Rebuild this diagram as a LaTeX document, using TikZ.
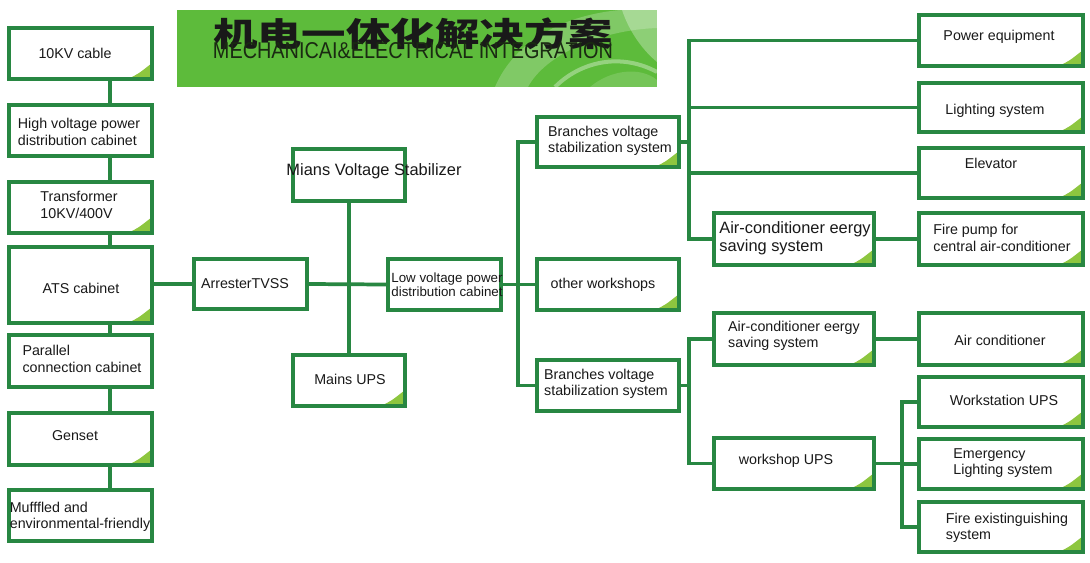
\documentclass[tikz,border=0pt]{standalone}
\usepackage{fontspec}
\setmainfont{Liberation Sans}
\newfontfamily\cjk{Noto Sans CJK SC}
\usetikzlibrary{calc}
\definecolor{gborder}{RGB}{40,135,66}
\definecolor{trigreen}{RGB}{141,198,63}
\definecolor{banner}{RGB}{93,187,59}
\definecolor{subtext}{RGB}{26,42,18}
\definecolor{txtcol}{RGB}{25,25,25}
\tikzset{
  gbox/.style={rectangle,draw=gborder,fill=white,line width=2.8pt,inner sep=0pt},
  tri/.style={path picture={\fill[trigreen] ([xshift=-18pt]path picture bounding box.south east) .. controls ([xshift=-10pt,yshift=4pt]path picture bounding box.south east) .. ([yshift=12pt]path picture bounding box.south east) -- (path picture bounding box.south east) -- cycle;}},
  wire/.style={draw=gborder,line width=2.8pt},
  btxt/.style={inner sep=0pt,align=left,text=txtcol,font=\fontsize{10.7}{12.3}\selectfont},
  bigtxt/.style={inner sep=0pt,align=left,text=txtcol,font=\fontsize{12.3}{13.5}\selectfont},
  smalltxt/.style={inner sep=0pt,align=left,text=txtcol,font=\fontsize{10}{10.8}\selectfont}
}
\newcommand\gb[6][]{\node[gbox,#1,minimum width={(#5-#3)*0.75pt},minimum height={(#6-#4)*0.75pt}] (#2) at ({(#3+#5)/2},{(#4+#6)/2}) {};}
\begin{document}
\begin{tikzpicture}[x=0.75pt,y=-0.75pt]
\useasboundingbox (0,0) rectangle (1090,562);
\fill[white] (0,0) rectangle (1090,562);
% banner
\node[rectangle,fill=banner,minimum width=360pt,minimum height=57.75pt,inner sep=0pt] (banner) at (417,48.5) {};
\begin{scope}
\clip (177,10) rectangle (657,87);
\fill[white,opacity=0.22] (495,87) .. controls (515,40) and (565,15) .. (620,10) -- (657,10) -- (657,28) .. controls (600,30) and (545,55) .. (528,87) -- cycle;
\fill[white,opacity=0.3] (622,10) -- (657,10) -- (657,62) .. controls (640,48) and (628,28) .. (622,10) -- cycle;
\draw[white,opacity=0.35,line width=3pt] (555,87) .. controls (580,62) and (620,52) .. (657,72);
\fill[white,opacity=0.15] (590,87) .. controls (610,70) and (640,66) .. (657,80) -- (657,87) -- cycle;
\end{scope}
\node[anchor=center,inner sep=0pt,text=txtcol] (title) at (413,34) {\resizebox*{300pt}{24pt}{\cjk\bfseries 机电一体化解决方案}};
\node[anchor=base,inner sep=0pt,text=subtext] (subtitle) at (413,58) {\resizebox{300pt}{12pt}{MECHANICAI\&ELECTRICAL INTEGRATION}};
% left column
\gb[tri]{cable}{9}{28}{152}{79}
\gb{hv}{9}{105}{152}{156}
\gb[tri]{tr}{9}{182}{152}{233}
\gb[tri]{ats}{9}{247}{152}{323}
\gb{par}{9}{335}{152}{387}
\gb[tri]{gen}{9}{413}{152}{465}
\gb{muf}{9}{490}{152}{541}
% centre
\gb{arr}{194}{259}{307}{309}
\gb{mvs}{293}{149}{405}{201}
\gb[tri]{ups}{293}{355}{405}{406}
\gb{lv}{388}{259}{501}{310}
% middle right
\gb[tri]{br1}{537}{117}{679}{167}
\gb[tri]{ow}{537}{259}{679}{310}
\gb{br2}{537}{360}{679}{411}
\gb[tri]{acs1}{714}{213}{874}{265}
\gb[tri]{acs2}{714}{313}{874}{365}
\gb[tri]{wups}{714}{438}{874}{489}
% far right
\gb[tri]{pe}{919}{15}{1083}{66}
\gb[tri]{ls}{919}{83}{1083}{132}
\gb[tri]{el}{919}{148}{1083}{198}
\gb[tri]{fp}{919}{213}{1083}{265}
\gb[tri]{ac}{919}{313}{1083}{365}
\gb[tri]{wu}{919}{377}{1083}{427}
\gb[tri]{em}{919}{439}{1083}{489}
\gb[tri]{fe}{919}{502}{1083}{552}
% texts
\node[btxt] (cable-t) at (75,53) {10KV cable};
\node[btxt] (hv-t) at (79,132) {High voltage power\\distribution cabinet};
\node[btxt] (tr-t) at (79,205) {Transformer\\10KV/400V};
\node[btxt] (ats-t) at (81,288) {ATS cabinet};
\node[btxt] (par-t) at (82,359) {Parallel\\connection cabinet};
\node[btxt] (gen-t) at (75,436) {Genset};
\node[btxt] (muf-t) at (80,517) {Mufffled and\\environmental-friendly};
\node[btxt] (arr-t) at (245,284) {ArresterTVSS};
\node[bigtxt] (mvs-t) at (374,171) {Mians Voltage Stabilizer};
\node[btxt] (ups-t) at (350,379) {Mains UPS};
\node[smalltxt] (lv-t) at (447,285) {Low voltage power\\distribution cabinet};
\node[btxt] (br1-t) at (610,141) {Branches voltage\\stabilization system};
\node[btxt] (ow-t) at (603,285) {other workshops};
\node[btxt] (br2-t) at (606,384) {Branches voltage\\stabilization system};
\node[bigtxt] (acs1-t) at (795,238) {Air-conditioner eergy\\saving system};
\node[btxt] (acs2-t) at (794,336) {Air-conditioner eergy\\saving system};
\node[btxt] (wups-t) at (786,461) {workshop UPS};
\node[btxt] (pe-t) at (999,37) {Power equipment};
\node[btxt] (ls-t) at (995,111) {Lighting system};
\node[btxt] (el-t) at (991,163) {Elevator};
\node[btxt] (fp-t) at (1002,238) {Fire pump for\\central air-conditioner};
\node[btxt] (ac-t) at (1000,340) {Air conditioner};
\node[btxt] (wu-t) at (1004,400) {Workstation UPS};
\node[btxt] (em-t) at (1003,463) {Emergency\\Lighting system};
\node[btxt] (fe-t) at (1007,528) {Fire existinguishing\\system};
% bus coordinates
\coordinate (lc) at (110,0);
\coordinate (b1) at (518,285);
\coordinate (b2) at (689,142);
\coordinate (b3) at (689,385.5);
\coordinate (b4) at (902,463.5);
% connectors
\draw[wire] (cable.south -| lc) -- (hv.north -| lc);
\draw[wire] (hv.south -| lc) -- (tr.north -| lc);
\draw[wire] (tr.south -| lc) -- (ats.north -| lc);
\draw[wire] (ats.south -| lc) -- (par.north -| lc);
\draw[wire] (par.south -| lc) -- (gen.north -| lc);
\draw[wire] (gen.south -| lc) -- (muf.north -| lc);
\draw[wire] (arr.west -| ats.east) -- (arr.west);
\draw[wire] (arr.east) -- (lv.west);
\draw[wire] (mvs.south) -- (ups.north);
\draw[wire] (lv.east) -- (ow.west);
\draw[wire] (br1.west) -| (b1) |- (br2.west);
\draw[wire] (br1.east) -- (b2);
\draw[wire] (b2) |- (pe.west);
\draw[wire] (b2) |- (ls.west);
\draw[wire] (b2) |- (el.west);
\draw[wire] (b2) |- (acs1.west);
\draw[wire] (acs1.east) -- (fp.west);
\draw[wire] (br2.east) -- (b3);
\draw[wire] (b3) |- (acs2.west);
\draw[wire] (b3) |- (wups.west);
\draw[wire] (acs2.east) -- (ac.west);
\draw[wire] (wups.east) -- (b4);
\draw[wire] (b4) |- (wu.west);
\draw[wire] (b4) |- (em.west);
\draw[wire] (b4) |- (fe.west);
\end{tikzpicture}
\end{document}
